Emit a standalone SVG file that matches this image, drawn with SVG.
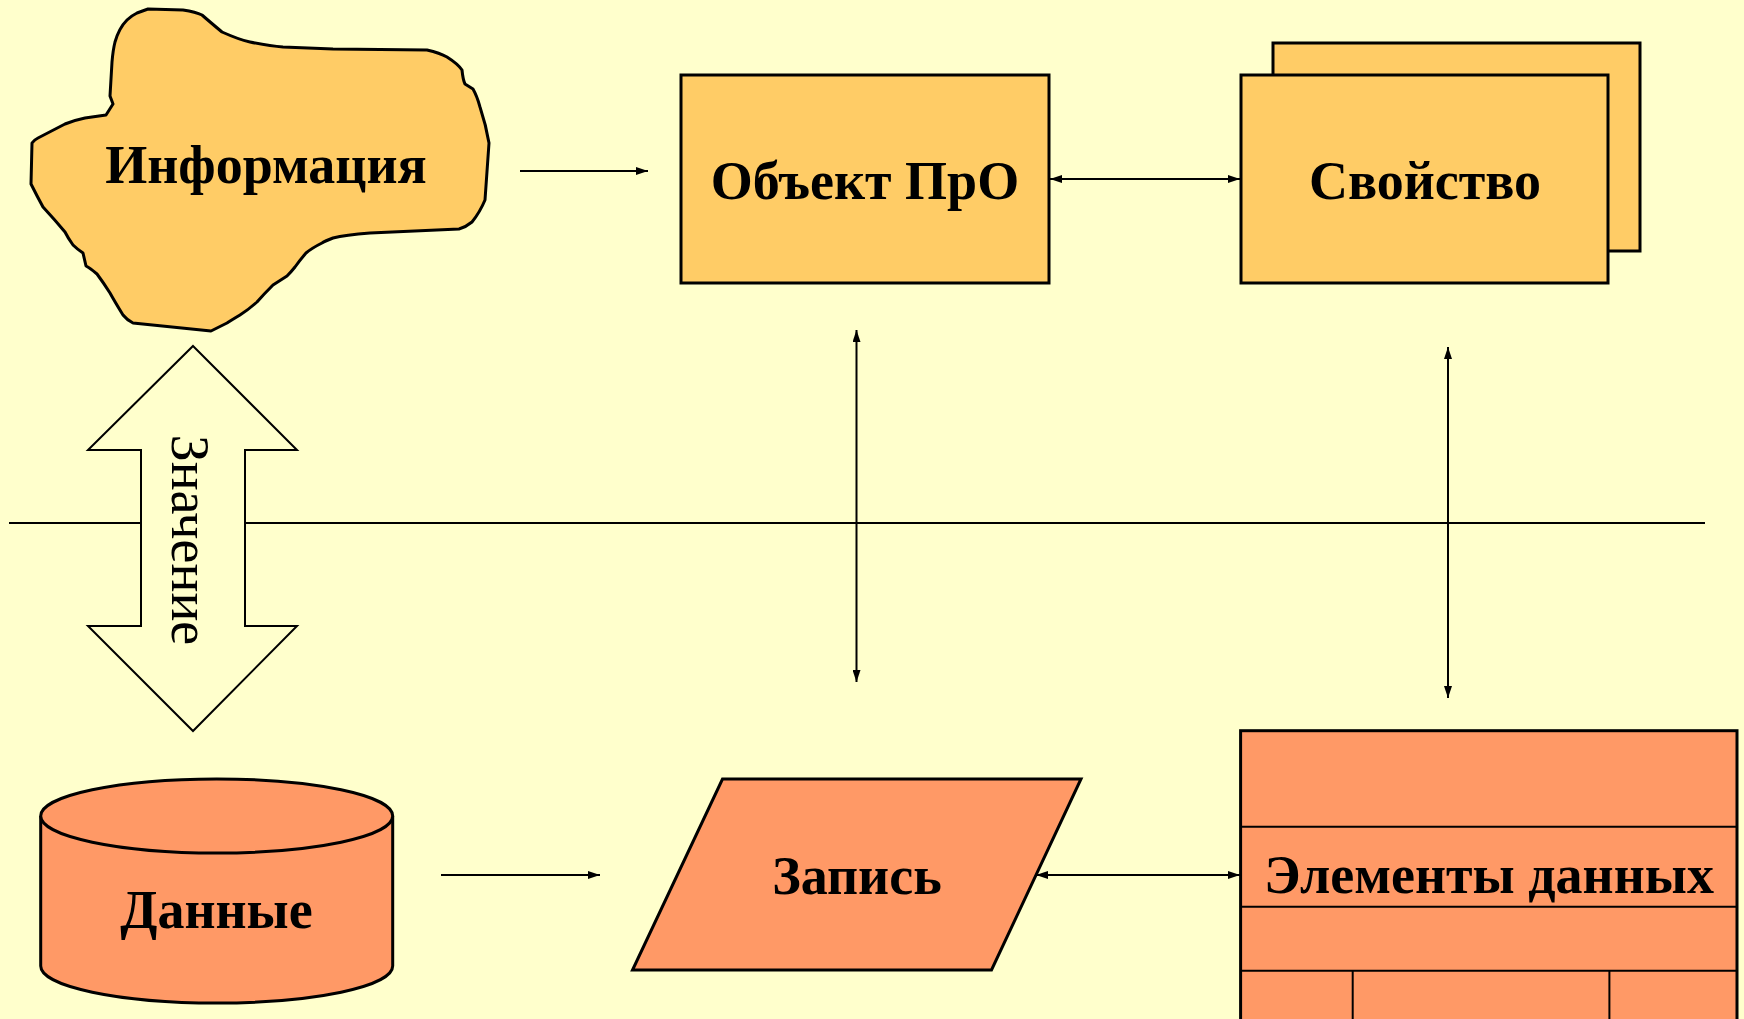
<svg xmlns="http://www.w3.org/2000/svg" width="1744" height="1019" viewBox="0 0 1744 1019">
<defs>
<style>
.lbl{font-family:"Liberation Serif","Times New Roman",serif;font-weight:bold;font-size:54px;fill:#000;text-anchor:middle}
.top{fill:#FFCC66;stroke:#000;stroke-width:3}
.bot{fill:#FF9966;stroke:#000;stroke-width:3}
.con{stroke:#000;stroke-width:2;fill:none}
</style>
<marker id="ah" markerUnits="userSpaceOnUse" markerWidth="12" markerHeight="8" refX="12" refY="4" orient="auto-start-reverse">
<path d="M0,0 L12,4 L0,8 z" fill="#000"/>
</marker>
</defs>
<rect x="0" y="0" width="1744" height="1019" fill="#FFFFCC"/>

<g id="connectors">
<line class="con" x1="9" y1="523" x2="1705" y2="523"/>
<line class="con" x1="520" y1="171" x2="648" y2="171" marker-end="url(#ah)"/>
<line class="con" x1="1050" y1="179" x2="1240" y2="179" marker-start="url(#ah)" marker-end="url(#ah)"/>
<line class="con" x1="856.5" y1="330" x2="856.5" y2="682" marker-start="url(#ah)" marker-end="url(#ah)"/>
<line class="con" x1="1448" y1="347" x2="1448" y2="698" marker-start="url(#ah)" marker-end="url(#ah)"/>
<line class="con" x1="441" y1="875" x2="600" y2="875" marker-end="url(#ah)"/>
<line class="con" x1="1036" y1="875" x2="1240" y2="875" marker-start="url(#ah)" marker-end="url(#ah)"/>
</g>

<g id="znachenie">
<polygon points="193,346 297,450 245,450 245,626 297,626 193,731 88,626 141,626 141,450 88,450" fill="#FFFFCC" stroke="#000" stroke-width="2"/>
<text x="172" y="540" transform="rotate(90 172 540)" font-family="'Liberation Serif','Times New Roman',serif" font-size="54" text-anchor="middle" fill="#000">Значение</text>
</g>

<g id="informaciya">
<path class="top" stroke-width="2" stroke-linejoin="round" d="M148,9 L183,10 Q196,12 202,15 Q210,22 222,32 Q240,40 250,42 Q270,46 283,47 L333,49 L427,50 Q440,53 447,57 Q458,64 462,70 Q463,80 465,84 L473,89 Q477,96 480,107 Q486,125 489,143 L485,200 Q480,212 472,222 Q466,227 459,229 L370,233 Q345,235 333,238 Q325,241 322,243 Q312,248 306,253 Q300,260 295,267 Q291,272 287,276 L273,285 Q264,294 257,302 Q248,310 240,315 Q230,321 227,323 L211,331 L133,323 Q127,320 123,315 Q115,302 110,293 Q103,282 97,274 Q90,268 86,266 L83,253 Q77,249 73,245 Q68,238 65,232 Q55,220 43,207 Q37,196 31,184 L32,143 Q34,140 38,138 L65,124 Q75,120 85,118 L106,115 L113,104 L110,96 L112,62 Q113,50 115,42 Q119,28 127,20 Q131,16 137,13 Z"/>
<text class="lbl" x="266" y="183">Информация</text>
</g>

<g id="obekt">
<rect class="top" x="681" y="75" width="368" height="208"/>
<text class="lbl" x="865" y="199">Объект ПрО</text>
</g>

<g id="svoystvo">
<rect class="top" x="1273" y="43" width="367" height="208"/>
<rect class="top" x="1241" y="75" width="367" height="208"/>
<text class="lbl" x="1425" y="199">Свойство</text>
</g>

<g id="dannye">
<path class="bot" d="M40.7,816 L40.7,966 A176,37 0 0 0 392.7,966 L392.7,816"/>
<ellipse class="bot" cx="216.7" cy="816" rx="176" ry="37"/>
<text class="lbl" x="216.5" y="928">Данные</text>
</g>

<g id="zapis">
<polygon class="bot" points="722.5,779 1081,779 991.5,970 632.5,970"/>
<text class="lbl" x="857" y="894">Запись</text>
</g>

<g id="elementy">
<rect class="bot" x="1240.6" y="730.7" width="496.4" height="300"/>
<line class="con" stroke-width="3" x1="1240.6" y1="826.7" x2="1737" y2="826.7"/>
<line class="con" stroke-width="3" x1="1240.6" y1="906.7" x2="1737" y2="906.7"/>
<line class="con" stroke-width="3" x1="1240.6" y1="970.7" x2="1737" y2="970.7"/>
<line class="con" stroke-width="3" x1="1352.7" y1="970.7" x2="1352.7" y2="1031"/>
<line class="con" stroke-width="3" x1="1609.4" y1="970.7" x2="1609.4" y2="1031"/>
<text class="lbl" x="1489" y="893">Элементы данных</text>
</g>
</svg>
